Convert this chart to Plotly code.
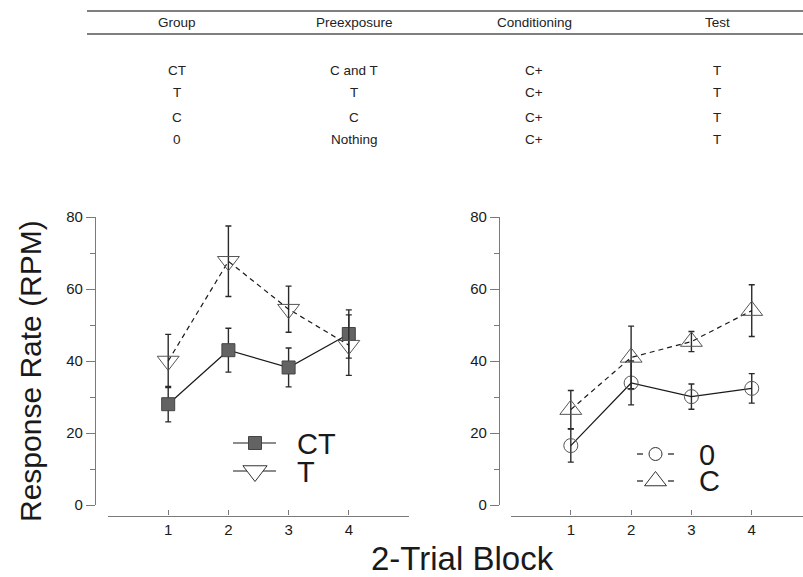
import plotly.graph_objects as go

# ---------------- data ----------------
blocks = [1, 2, 3, 4]

ct_mean = [28.0, 43.0, 38.2, 47.5]
ct_err = [4.9, 6.1, 5.4, 6.7]
t_mean = [40.0, 67.7, 54.4, 44.4]
t_err = [7.4, 9.8, 6.4, 8.4]

zero_mean = [16.5, 33.9, 30.1, 32.4]
zero_err = [4.6, 6.1, 3.5, 4.1]
c_mean = [26.5, 41.0, 45.4, 54.0]
c_err = [5.3, 8.7, 2.8, 7.2]

table_header = ["Group", "Preexposure", "Conditioning", "Test"]
table_group = ["CT", "T", "C", "0"]
table_pre = ["C and T", "T", "C", "Nothing"]
table_cond = ["C+", "C+", "C+", "C+"]
table_test = ["T", "T", "T", "T"]

y_ticks = [0, 20, 40, 60, 80]
x_ticks_left = [0, 1, 2, 3, 4, 5]
x_ticks_right = [0, 1, 2, 3, 4]

# ---------------- layout helpers ----------------
W, H = 803, 577
def px(x):
    return x / W
def py(y):
    return 1 - y / H

FONT = "Liberation Sans, Arial, Helvetica, sans-serif"
AX = "#7a7a7a"
INK = "#1a1a1a"

fig = go.Figure()

err_style = dict(type="data", thickness=1.4, width=3, color="#2a2a2a")

# Left panel
fig.add_trace(go.Scatter(
    x=blocks, y=ct_mean, xaxis="x", yaxis="y", mode="lines+markers",
    error_y=dict(array=ct_err, **err_style),
    line=dict(color=INK, width=1.2),
    marker=dict(symbol="square", size=13, color="#636363",
                line=dict(color="#444444", width=1)),
    showlegend=False, cliponaxis=False))
fig.add_trace(go.Scatter(
    x=blocks, y=t_mean, xaxis="x", yaxis="y", mode="lines+markers",
    error_y=dict(array=t_err, **err_style),
    line=dict(color=INK, width=1.2, dash="5px,4px"),
    marker=dict(symbol="triangle-down-open", size=19, color="#555555",
                line=dict(color="#555555", width=1)),
    showlegend=False, cliponaxis=False))

# Right panel
fig.add_trace(go.Scatter(
    x=blocks, y=zero_mean, xaxis="x2", yaxis="y2", mode="lines+markers",
    error_y=dict(array=zero_err, **err_style),
    line=dict(color=INK, width=1.2),
    marker=dict(symbol="circle-open", size=14, color="#555555",
                line=dict(color="#555555", width=1)),
    showlegend=False, cliponaxis=False))
fig.add_trace(go.Scatter(
    x=blocks, y=c_mean, xaxis="x2", yaxis="y2", mode="lines+markers",
    error_y=dict(array=c_err, **err_style),
    line=dict(color=INK, width=1.2, dash="5px,4px"),
    marker=dict(symbol="triangle-up-open", size=19, color="#555555",
                line=dict(color="#555555", width=1)),
    showlegend=False, cliponaxis=False))

# ---------------- hand-made legends (overlay pixel axes) ----------------
shapes = []
for yy in (443, 471):
    shapes.append(dict(type="line", xref="x3", yref="y3", x0=233, x1=276, y0=yy, y1=yy,
                       line=dict(color=INK, width=1.2), layer="below"))
for yy in (454, 481):
    for (a, b) in ((637, 643), (668, 674)):
        shapes.append(dict(type="line", xref="x3", yref="y3", x0=a, x1=b, y0=yy, y1=yy,
                           line=dict(color=INK, width=1.2)))

fig.add_trace(go.Scatter(x=[255], y=[443], xaxis="x3", yaxis="y3", mode="markers",
                         marker=dict(symbol="square", size=13, color="#636363",
                                     line=dict(color="#444444", width=1)),
                         showlegend=False, hoverinfo="skip", cliponaxis=False))
fig.add_trace(go.Scatter(x=[255], y=[471], xaxis="x3", yaxis="y3", mode="markers",
                         marker=dict(symbol="triangle-down", size=21, color="white",
                                     line=dict(color="#333333", width=1)),
                         showlegend=False, hoverinfo="skip", cliponaxis=False))
fig.add_trace(go.Scatter(x=[655.5], y=[454], xaxis="x3", yaxis="y3", mode="markers",
                         marker=dict(symbol="circle", size=13, color="white",
                                     line=dict(color="#333333", width=1)),
                         showlegend=False, hoverinfo="skip", cliponaxis=False))
fig.add_trace(go.Scatter(x=[655.5], y=[481], xaxis="x3", yaxis="y3", mode="markers",
                         marker=dict(symbol="triangle-up", size=19, color="white",
                                     line=dict(color="#333333", width=1)),
                         showlegend=False, hoverinfo="skip", cliponaxis=False))

annotations = []
def txt(x, y, s, size, xanchor="center", angle=0, color=INK):
    annotations.append(dict(x=px(x), y=py(y), xref="paper", yref="paper", text=s,
                            showarrow=False, xanchor=xanchor, yanchor="middle",
                            textangle=angle, font=dict(family=FONT, size=size, color=color)))

# legend labels
txt(295, 444, "CT", 29, xanchor="left")
txt(295, 472, "T", 29, xanchor="left")
txt(697, 455, "0", 29, xanchor="left")
txt(697, 481, "C", 29, xanchor="left")

# table
col_x = [177, 354, 534, 717]
row_y = [71, 93, 117, 140]
for cx, h in zip(col_x, table_header):
    txt(cx, 23, h, 13.5, color="#222222")
for cx, col in zip(col_x, [table_group, table_pre, table_cond, table_test]):
    for ry, v in zip(row_y, col):
        txt(cx, ry, v, 13.5, color="#222222")
for yy in (11, 34):
    shapes.append(dict(type="line", xref="paper", yref="paper", x0=px(87), x1=1.0,
                       y0=py(yy), y1=py(yy), line=dict(color="#555555", width=1.3)))

# axis titles
txt(30, 371, "Response Rate (RPM)", 30, angle=-90)
txt(462, 558, "2-Trial Block", 33)

# ---------------- axes ----------------
ydom = [py(505), py(217)]
xpos = py(515.5)
yaxis_common = dict(range=[0, 80], domain=ydom, anchor="free", automargin=False,
                    tickmode="array", tickvals=y_ticks,
                    ticks="outside", ticklen=9, tickwidth=1, tickcolor=AX,
                    showline=True, linecolor=AX, linewidth=1.2,
                    showgrid=False, zeroline=False,
                    minor=dict(dtick=10, tick0=0, ticks="outside", ticklen=5,
                               tickcolor=AX, tickwidth=1, showgrid=False),
                    tickfont=dict(family=FONT, size=15, color=INK))
xaxis_common = dict(anchor="free", position=xpos, tickmode="array", automargin=False,
                    ticks="inside", ticklen=5, tickwidth=1, tickcolor=AX,
                    showline=True, linecolor=AX, linewidth=1.2,
                    showgrid=False, zeroline=False,
                    tickfont=dict(family=FONT, size=15, color=INK))

fig.update_layout(
    width=W, height=H, autosize=False,
    margin=dict(l=0, r=0, t=0, b=0, pad=0, autoexpand=False),
    paper_bgcolor="white", plot_bgcolor="rgba(0,0,0,0)",
    xaxis=dict(domain=[px(108), px(409)], range=[0, 5],
               tickvals=x_ticks_left, ticktext=["", "1", "2", "3", "4", ""],
               **xaxis_common),
    yaxis=dict(position=px(95), **yaxis_common),
    xaxis2=dict(domain=[px(510.5), 1.0], range=[0, 4.85],
                tickvals=x_ticks_right, ticktext=["", "1", "2", "3", "4"],
                **xaxis_common),
    yaxis2=dict(position=px(499), **yaxis_common),
    xaxis3=dict(domain=[0, 1], range=[0, W], visible=False, anchor="y3", fixedrange=True),
    yaxis3=dict(domain=[0, 1], range=[H, 0], visible=False, anchor="x3", fixedrange=True),
    shapes=shapes,
    annotations=annotations,
    showlegend=False,
)

fig.write_html("out.html", config={"displayModeBar": False},
               post_script="document.body.style.margin='0';document.body.style.overflow='hidden';")
